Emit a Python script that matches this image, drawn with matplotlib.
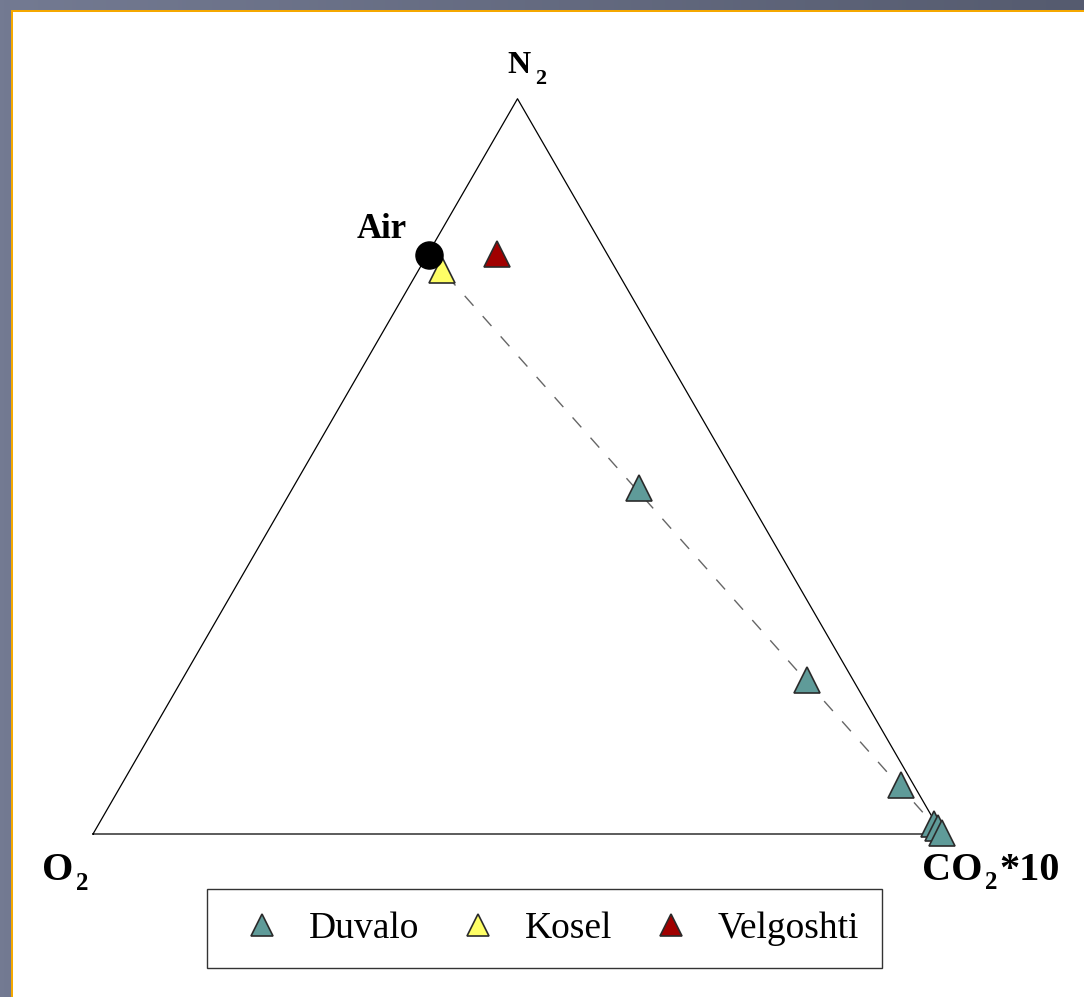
# ======================================================
# Ternary diagram N2 - O2 - CO2*10 (gas samples)
# ======================================================

import numpy as np
import matplotlib
matplotlib.use("Agg")
import matplotlib.pyplot as plt
from matplotlib.patches import Rectangle
from matplotlib.colors import LinearSegmentedColormap

plt.rcParams["font.family"] = ["Liberation Serif", "DejaVu Serif"]

# ======================================================
# Data (normalised %, N2 / O2 / CO2*10)
# ======================================================

duvalo_n2 = [47.1, 20.9, 6.7, 1.4, 0.8, 0.1]
duvalo_o2 = [12.1, 5.5, 1.5, 0.3, 0.1, 0.0]
duvalo_co2 = [40.8, 73.6, 91.8, 98.3, 99.1, 99.9]

kosel_n2 = [76.7]
kosel_o2 = [20.6]
kosel_co2 = [2.7]

velgoshti_n2 = [78.9]
velgoshti_o2 = [13.0]
velgoshti_co2 = [8.1]

air_n2 = [78.7]
air_o2 = [21.1]
air_co2 = [0.2]

H = np.sqrt(3) / 2


def to_xy(n2, o2, co2):
    n2 = np.asarray(n2, float)
    o2 = np.asarray(o2, float)
    co2 = np.asarray(co2, float)
    tot = n2 + o2 + co2
    a = n2 / tot
    c = co2 / tot
    return c + a / 2, a * H


# ======================================================
# Figure and frame
# ======================================================

W, Hpx = 1084, 997
fig = plt.figure(figsize=(W / 100, Hpx / 100), dpi=100)

bg = fig.add_axes([0, 0, 1, 1])
grad = np.linspace(0, 1, 256)[None, :]
bg.imshow(grad, cmap=LinearSegmentedColormap.from_list("frame", ["#737a92", "#555b6f"]),
          aspect="auto", extent=[0, 1, 0, 1])
bg.add_patch(Rectangle((11 / W, 0), 1, 1 - 10 / Hpx, color="#f5a800", lw=0,
                       antialiased=False))
bg.add_patch(Rectangle((13 / W, 0), 1, 1 - 12 / Hpx, color="white", lw=0,
                       antialiased=False))
bg.set_xlim(0, 1)
bg.set_ylim(0, 1)
bg.axis("off")

# triangle axes: O2 vertex at (93, 834) px, side 849 px
ax = fig.add_axes([93 / W, (Hpx - 834) / Hpx, 849 / W, 849 * H / Hpx])
ax.set_xlim(0, 1)
ax.set_ylim(0, H)
ax.axis("off")

ax.plot([0, 1, 0.5, 0], [0, 0, H, 0], color="black", lw=0.9, clip_on=False, zorder=2)

# mixing line air -> CO2 vertex
air_x, air_y = to_xy(air_n2, air_o2, air_co2)
ax.plot([air_x[0], 1], [air_y[0], 0], color="#666666", lw=1, dashes=(9.5, 10),
        clip_on=False, zorder=1)

edge = "#2b2b2b"
ms = 18.5
dx, dy = to_xy(duvalo_n2, duvalo_o2, duvalo_co2)
ax.plot(dx, dy, "^", ms=ms, mfc="#5f9b99", mec=edge, mew=1.2, ls="none",
        clip_on=False, zorder=3, label="Duvalo")
kx, ky = to_xy(kosel_n2, kosel_o2, kosel_co2)
ax.plot(kx, ky, "^", ms=ms, mfc="#ffff66", mec=edge, mew=1.2, ls="none",
        clip_on=False, zorder=3, label="Kosel")
vx, vy = to_xy(velgoshti_n2, velgoshti_o2, velgoshti_co2)
ax.plot(vx, vy, "^", ms=ms, mfc="#a00000", mec=edge, mew=1.2, ls="none",
        clip_on=False, zorder=3, label="Velgoshti")

ax.plot(air_x, air_y, "o", ms=19.5, mfc="black", mec="black", clip_on=False, zorder=4)

# ======================================================
# Labels (subscripts placed by hand, Times-like bold)
# ======================================================

def ftext(px, py, s, size):
    fig.text(px / W, 1 - py / Hpx, s, fontsize=size, fontweight="bold",
             ha="left", va="baseline")

ftext(507, 73, "N", 23)
ftext(535, 84, "2", 16)
ftext(42, 880, "O", 29)
ftext(76, 890, "2", 18)
ftext(922, 880, "CO", 29)
ftext(985, 889, "2", 18)
ftext(999, 880, "*10", 29)
ftext(357, 238, "Air", 25)

# ======================================================
# Legend
# ======================================================

leg = fig.legend(loc="center", bbox_to_anchor=(544.5 / W, 1 - 928.5 / Hpx),
                 ncol=3, fontsize=27, frameon=True, fancybox=False,
                 edgecolor="black", handlelength=1.7, handletextpad=0.4,
                 columnspacing=0.72, borderpad=0.6, markerscale=0.88)
leg.get_frame().set_linewidth(1.0)

fig.savefig("out.png", dpi=100)
